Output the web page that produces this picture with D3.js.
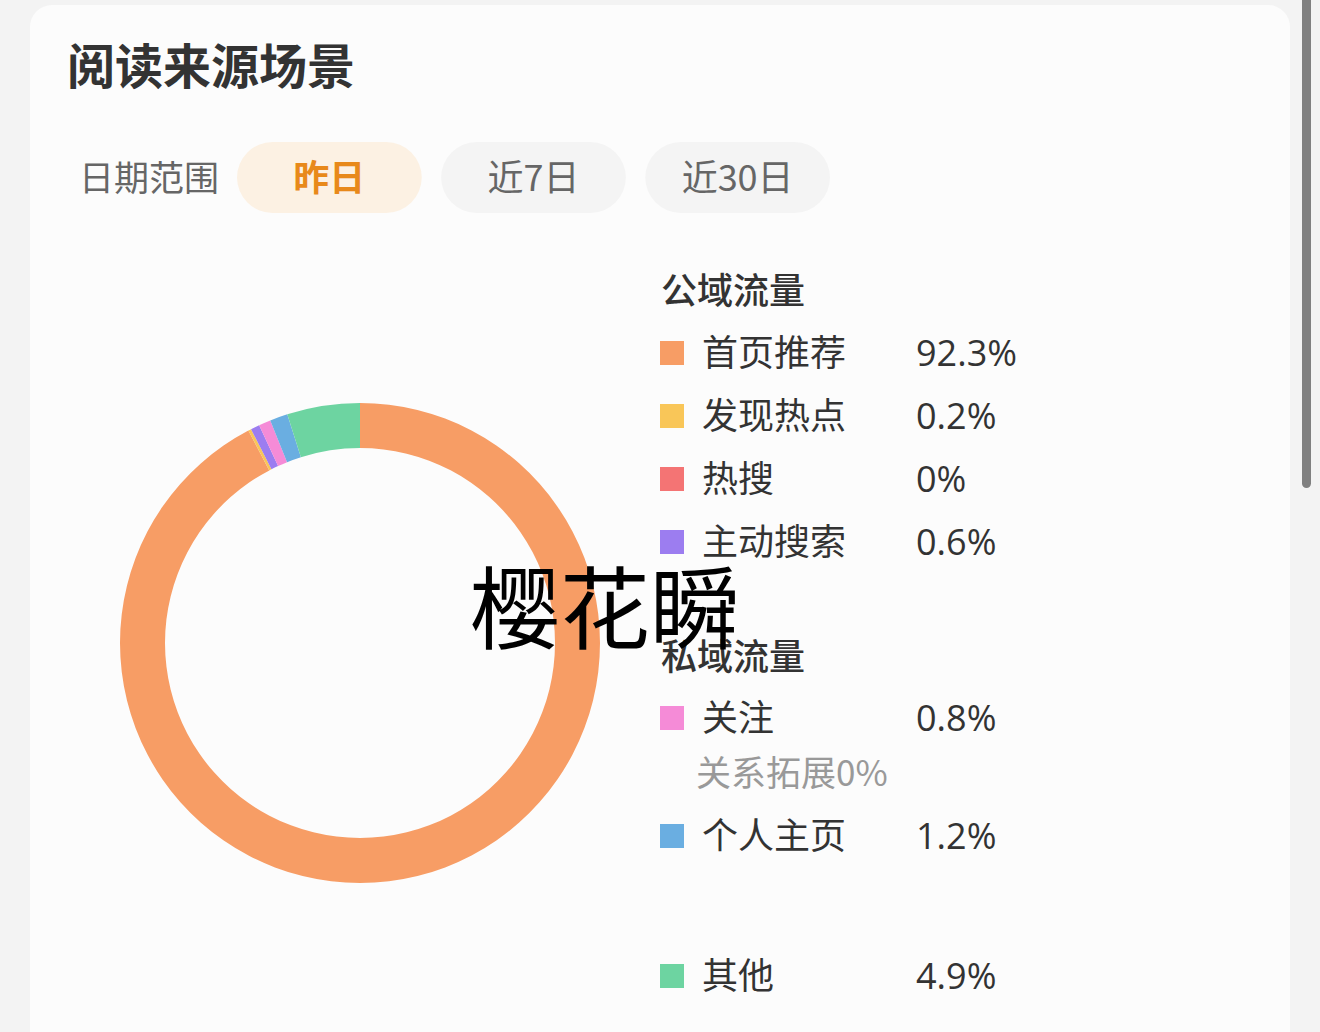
<!DOCTYPE html>
<html>
<head>
<meta charset="utf-8">
<script src="https://cdn.jsdelivr.net/npm/d3@7"></script>
<style>
  html, body { margin: 0; padding: 0; background: #f3f3f3; }
  svg { display: block; }
</style>
</head>
<body>
<script>
// chart data
const categories = ['首页推荐', '发现热点', '热搜', '主动搜索', '关注', '个人主页', '其他'];
const shares = [92.3, 0.2, 0, 0.6, 0.8, 1.2, 4.9];
const groupOf = ['公域流量', '公域流量', '公域流量', '公域流量', '私域流量', '私域流量', '私域流量'];
const sliceColors = ['#f79d65', '#f9c658', '#f47474', '#9c7df0', '#f58bd7', '#6aaee1', '#6dd4a1'];
const tabs = ['昨日', '近7日', '近30日'];
const subNote = '关系拓展0%';

const W = 1320, H = 1032;
const font = '"Noto Sans CJK SC", "Noto Sans", sans-serif';
const numFont = '"Open Sans", Roboto, sans-serif';

const svg = d3.select('body').append('svg')
  .attr('width', W)
  .attr('height', H);

// page + card
svg.append('rect').attr('width', W).attr('height', H).attr('fill', '#f3f3f3');
svg.append('rect')
  .attr('x', 30).attr('y', 5)
  .attr('width', 1260).attr('height', 1100)
  .attr('rx', 22)
  .attr('fill', '#fcfcfc');

// scrollbar
svg.append('rect')
  .attr('x', 1302).attr('y', -10)
  .attr('width', 9).attr('height', 498)
  .attr('rx', 4.5)
  .attr('fill', '#808080');

// title
svg.append('text')
  .attr('x', 67).attr('y', 84)
  .attr('font-family', font)
  .attr('font-size', 48)
  .attr('font-weight', 700)
  .attr('fill', '#333')
  .text('阅读来源场景');

// date range row
svg.append('text')
  .attr('x', 79).attr('y', 191)
  .attr('font-family', font)
  .attr('font-size', 35)
  .attr('fill', '#666')
  .text('日期范围');

const tabX = d3.scaleBand().domain(tabs).range([237, 830]).paddingInner(0.095);

const tab = svg.selectAll('g.tab')
  .data(tabs)
  .enter()
  .append('g')
  .attr('class', 'tab');

tab.append('rect')
  .attr('x', d => tabX(d))
  .attr('y', 142)
  .attr('width', tabX.bandwidth())
  .attr('height', 71)
  .attr('rx', 35.5)
  .attr('fill', (d, i) => i === 0 ? '#fcf1e3' : '#f4f4f4');

tab.append('text')
  .attr('x', d => tabX(d) + tabX.bandwidth() / 2)
  .attr('y', 191)
  .attr('text-anchor', 'middle')
  .attr('font-family', font)
  .attr('font-size', 36)
  .attr('font-weight', (d, i) => i === 0 ? 700 : 400)
  .attr('fill', (d, i) => i === 0 ? '#e8891a' : '#666')
  .text(d => d);

// donut
const pie = d3.pie().sort(null).value(d => d);
const arc = d3.arc().innerRadius(195).outerRadius(240);

const donut = svg.append('g')
  .attr('transform', 'translate(360,643)');

donut.selectAll('path')
  .data(pie(shares))
  .enter()
  .append('path')
  .attr('d', arc)
  .attr('fill', (d, i) => sliceColors[i]);

// legend
const rows = [];
categories.forEach((c, i) => {
  if (i === 0 || groupOf[i] !== groupOf[i - 1]) rows.push({ type: 'head', text: groupOf[i] });
  rows.push({ type: 'item', i });
  if (c === '关注') rows.push({ type: 'note', text: subNote });
});
// vertical slots of the legend rows (layout only)
const rowY = [292, 353, 416, 479, 542, 658, 718, 774, 836, 976];

const legend = svg.append('g');

rows.forEach((r, k) => {
  const y = rowY[k];
  if (r.type === 'head') {
    legend.append('text')
      .attr('x', 661).attr('y', y + 12)
      .attr('font-family', font)
      .attr('font-size', 36)
      .attr('font-weight', 500)
      .attr('fill', '#333')
      .text(r.text);
  } else if (r.type === 'note') {
    legend.append('text')
      .attr('x', 696).attr('y', y + 12)
      .attr('font-family', font)
      .attr('font-size', 35)
      .attr('fill', '#999')
      .text(r.text);
  } else {
    legend.append('rect')
      .attr('x', 660).attr('y', y - 12)
      .attr('width', 24).attr('height', 24)
      .attr('fill', sliceColors[r.i]);
    legend.append('text')
      .attr('x', 702).attr('y', y + 13)
      .attr('font-family', font)
      .attr('font-size', 36)
      .attr('fill', '#333')
      .text(categories[r.i]);
    legend.append('text')
      .attr('x', 916).attr('y', y + 13)
      .attr('font-family', numFont)
      .attr('font-size', 36)
      .attr('fill', '#333')
      .text(shares[r.i] + '%');
  }
});

// overlay text
svg.append('text')
  .attr('x', 470).attr('y', 642)
  .attr('font-family', font)
  .attr('font-size', 90)
  .attr('fill', '#000')
  .text('樱花瞬');
</script>
</body>
</html>
